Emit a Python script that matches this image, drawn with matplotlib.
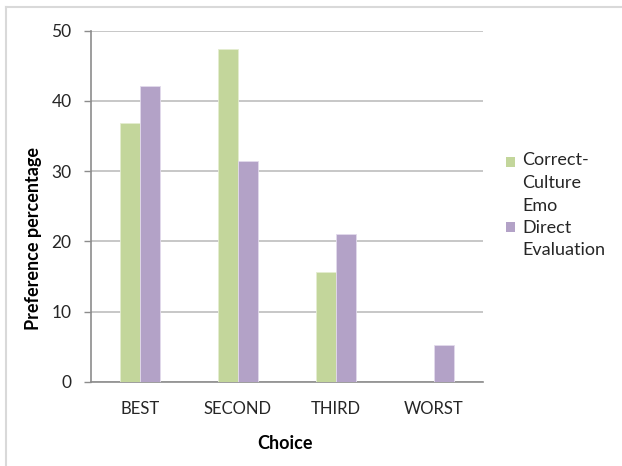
import matplotlib
matplotlib.use("Agg")
import matplotlib.pyplot as plt
from matplotlib.lines import Line2D
from matplotlib.patches import Rectangle
import numpy as np

plt.rcParams['font.family'] = ['Lato', 'DejaVu Sans']

categories = ["BEST", "SECOND", "THIRD", "WORST"]
correct_culture_emo = [36.8, 47.4, 15.7, 0.0]
direct_evaluation = [42.1, 31.5, 21.1, 5.2]
series_names = [["Correct-", "Culture", "Emo"], ["Direct", "Evaluation"]]
y_ticks = [0, 10, 20, 30, 40, 50]

green = "#C3D69B"
purple = "#B3A2C7"
grid_col = "#BDBDBD"
axis_col = "#8C8C8C"
text_col = "#262626"

W, H = 622, 466
fig = plt.figure(figsize=(W / 100, H / 100), dpi=100)


def fx(px):
    return px / W


def fy(py):
    return 1 - py / H


# thin frame around the chart area (top and left edges visible)
fig.add_artist(Line2D([fx(5.5), fx(5.5)], [0, fy(7)], transform=fig.transFigure,
                      color="#D9D9D9", lw=1.5))
fig.add_artist(Line2D([fx(5.5), 1], [fy(7), fy(7)], transform=fig.transFigure,
                      color="#D9D9D9", lw=1.5))

L, R, T, B = 91, 483, 30.7, 382
ax = fig.add_axes([fx(L), fy(B), (R - L) / W, (B - T) / H])

x = np.arange(len(categories))
bw = 0.2
ax.bar(x - bw / 2, correct_culture_emo, bw, color=green, edgecolor="#E4EDD0",
       linewidth=0.6, zorder=3)
ax.bar(x + bw / 2, direct_evaluation, bw, color=purple, edgecolor="#E2DAEC",
       linewidth=0.6, zorder=3)

ax.set_xlim(-0.5, len(categories) - 0.5)
ax.set_ylim(0, 50)
ax.set_yticks(y_ticks)
ax.set_xticks(x)
ax.set_xticklabels(categories)
ax.yaxis.grid(True, color=grid_col, lw=1.2, zorder=0)
ax.set_axisbelow(True)

for s in ["top", "right"]:
    ax.spines[s].set_visible(False)
for s in ["left", "bottom"]:
    ax.spines[s].set_color(axis_col)
    ax.spines[s].set_linewidth(1.2)

ax.tick_params(axis="y", direction="out", length=5, width=1, color=axis_col,
               labelsize=12.5, labelcolor=text_col, pad=9)
ax.tick_params(axis="x", length=0, labelsize=12, labelcolor=text_col, pad=14)

ax.set_ylabel("Preference percentage", fontsize=13, fontweight="bold",
              color="black")
ax.yaxis.set_label_coords((42 - L) / (R - L), (B - 238) / (B - T))
ax.set_xlabel("Choice", fontsize=13, fontweight="bold", color="black")
ax.xaxis.set_label_coords((285 - L) / (R - L), -(435 - B) / (B - T))

# legend: square markers beside multi-line series names
legend_rows = [(162, green, series_names[0], [160, 183, 206]),
               (227, purple, series_names[1], [228, 250])]
for sq_y, col, lines, ys in legend_rows:
    fig.add_artist(Rectangle((fx(506), fy(sq_y + 4.5)), 9 / W, 9 / H,
                             transform=fig.transFigure, facecolor=col,
                             edgecolor="none"))
    for txt, ty in zip(lines, ys):
        fig.text(fx(522), fy(ty), txt, fontsize=13, color=text_col,
                 ha="left", va="center")

fig.savefig("out.png", dpi=100)
